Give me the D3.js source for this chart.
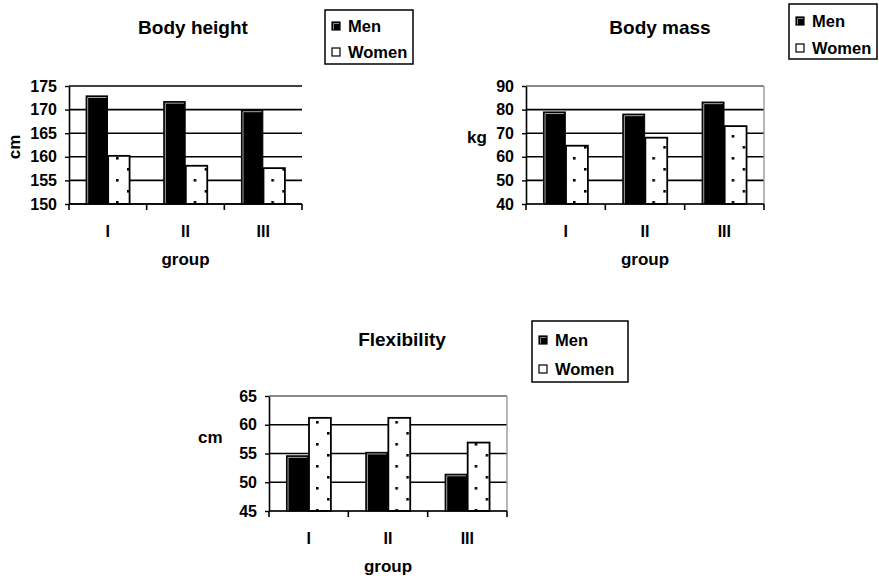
<!DOCTYPE html>
<html>
<head>
<meta charset="utf-8">
<script src="https://cdn.jsdelivr.net/npm/d3@7"></script>
<style>
  html, body { margin: 0; padding: 0; background: #fff; }
  svg { display: block; font-family: "Liberation Sans", Arial, sans-serif; font-weight: bold; }
</style>
</head>
<body>
<svg id="chart" width="879" height="584"></svg>
<script>
// Anthropometric comparison of men and women in three groups
const groups = ["I", "II", "III"];
const seriesNames = ["Men", "Women"];

const heightMen = [172.9, 171.7, 169.9];
const heightWomen = [160.2, 158.1, 157.6];
const heightTicks = [150, 155, 160, 165, 170, 175];

const massMen = [79.0, 78.1, 83.2];
const massWomen = [64.7, 68.1, 73.0];
const massTicks = [40, 50, 60, 70, 80, 90];

const flexMen = [54.6, 55.2, 51.4];
const flexWomen = [61.2, 61.2, 56.9];
const flexTicks = [45, 50, 55, 60, 65];

const svg = d3.select("#chart");

// dotted fill used for the women's bars
const defs = svg.append("defs");
const pat = defs.append("pattern")
  .attr("id", "dots")
  .attr("patternUnits", "userSpaceOnUse")
  .attr("width", 22).attr("height", 22);
pat.append("rect").attr("width", 22).attr("height", 22).attr("fill", "#fff");
pat.append("rect").attr("x", 3).attr("y", 3).attr("width", 2.6).attr("height", 2.6).attr("fill", "#000");
pat.append("rect").attr("x", 14).attr("y", 14).attr("width", 2.6).attr("height", 2.6).attr("fill", "#000");

const panels = [
  {
    title: "Body height", men: heightMen, women: heightWomen, ticks: heightTicks,
    unit: "cm", unitRotated: true, unitPos: [20, 147],
    plot: { x0: 69, x1: 302, y0: 86, y1: 204 },
    titlePos: [193, 34], legend: { x: 325, y: 10, w: 88, h: 54, r1: 22, r2: 48 },
    frame: false
  },
  {
    title: "Body mass", men: massMen, women: massWomen, ticks: massTicks,
    unit: "kg", unitRotated: false, unitPos: [467, 143],
    plot: { x0: 526, x1: 764, y0: 86, y1: 204 },
    titlePos: [660, 34], legend: { x: 789, y: 4, w: 88, h: 55, r1: 23, r2: 50 },
    frame: true
  },
  {
    title: "Flexibility", men: flexMen, women: flexWomen, ticks: flexTicks,
    unit: "cm", unitRotated: false, unitPos: [198, 443],
    plot: { x0: 269, x1: 507, y0: 396, y1: 511 },
    titlePos: [402, 346], legend: { x: 532, y: 321, w: 96, h: 61, r1: 25, r2: 54 },
    frame: true
  }
];

function drawPanel(p) {
  const g = svg.append("g");
  const { x0, x1, y0, y1 } = p.plot;
  const ext = d3.extent(p.ticks);

  const x = d3.scaleBand().domain(groups).range([x0, x1]).padding(0);
  const bw = x.bandwidth();
  const xs = d3.scaleBand().domain(seriesNames).range([bw * 0.22, bw * 0.78]).paddingInner(0.03);
  const y = d3.scaleLinear().domain(ext).range([y1, y0]);

  // horizontal gridlines
  g.append("g").selectAll("line").data(p.ticks).join("line")
    .attr("x1", x0).attr("x2", x1)
    .attr("y1", d => y(d)).attr("y2", d => y(d))
    .attr("stroke", d => (p.frame && (d === ext[1] || d === ext[0])) ? "#8a8a8a" : "#000")
    .attr("stroke-width", d => (p.frame && d === ext[1]) ? 2 : 1.6);

  if (p.frame) {
    g.append("line").attr("x1", x1).attr("x2", x1).attr("y1", y0).attr("y2", y1)
      .attr("stroke", "#9a9a9a").attr("stroke-width", 1.4);
  }

  // bars
  const rows = groups.map((grp, i) => ({ grp, Men: p.men[i], Women: p.women[i] }));
  const bars = g.append("g").selectAll("g").data(rows).join("g")
    .attr("transform", d => `translate(${x(d.grp)},0)`);

  bars.append("rect")
    .attr("x", xs("Men")).attr("width", xs.bandwidth())
    .attr("y", d => y(d.Men)).attr("height", d => y1 - y(d.Men))
    .attr("fill", "#000").attr("stroke", "#000").attr("stroke-width", 1);
  bars.append("path")
    .attr("d", d => {
      const l = xs("Men") + 1.6, t = y(d.Men) + 1.6, r = xs("Men") + xs.bandwidth() - 1.2;
      return `M${l},${y1}L${l},${t}L${r},${t}`;
    })
    .attr("fill", "none").attr("stroke", "#b5b5b5").attr("stroke-width", 0.9);

  bars.append("rect")
    .attr("x", xs("Women")).attr("width", xs.bandwidth())
    .attr("y", d => y(d.Women)).attr("height", d => y1 - y(d.Women))
    .attr("fill", "url(#dots)").attr("stroke", "#000").attr("stroke-width", 1.8);

  // y axis
  const yAxis = g.append("g").attr("transform", `translate(${x0},0)`)
    .call(d3.axisLeft(y).tickValues(p.ticks).tickFormat(d3.format("d"))
      .tickSize(4).tickSizeOuter(0).tickPadding(8));
  yAxis.select(".domain").attr("stroke", "#000").attr("stroke-width", 1.6);
  yAxis.selectAll(".tick line").attr("stroke", "#000").attr("stroke-width", 1.4);
  yAxis.selectAll(".tick text").attr("font-size", 16).attr("font-weight", "bold")
    .attr("font-family", "Liberation Sans, Arial, sans-serif").attr("fill", "#000");

  // x axis: category labels plus separators between groups
  const xAxis = g.append("g").attr("transform", `translate(0,${y1})`)
    .call(d3.axisBottom(x).tickSize(0).tickPadding(22));
  xAxis.select(".domain").remove();
  xAxis.selectAll(".tick text").attr("font-size", 16).attr("font-weight", "bold")
    .attr("font-family", "Liberation Sans, Arial, sans-serif").attr("fill", "#000");
  g.append("line").attr("x1", x0).attr("x2", x1).attr("y1", y1).attr("y2", y1)
    .attr("stroke", "#000").attr("stroke-width", 1.6);
  const seps = groups.map(d => x(d)).concat([x1]);
  g.append("g").selectAll("line").data(seps).join("line")
    .attr("x1", d => d).attr("x2", d => d).attr("y1", y1).attr("y2", y1 + 6)
    .attr("stroke", "#000").attr("stroke-width", 1.6);

  // axis titles
  g.append("text").attr("x", (x0 + x1) / 2).attr("y", y1 + 61)
    .attr("text-anchor", "middle").attr("font-size", 17).text("group");
  if (p.unitRotated) {
    g.append("text")
      .attr("transform", `translate(${p.unitPos[0]},${p.unitPos[1]}) rotate(-90)`)
      .attr("text-anchor", "middle").attr("font-size", 17).text(p.unit);
  } else {
    g.append("text").attr("x", p.unitPos[0]).attr("y", p.unitPos[1])
      .attr("font-size", 17).text(p.unit);
  }

  // chart title
  g.append("text").attr("x", p.titlePos[0]).attr("y", p.titlePos[1])
    .attr("text-anchor", "middle").attr("font-size", 19).text(p.title);

  // legend
  const L = p.legend;
  const lg = g.append("g").attr("transform", `translate(${L.x},${L.y})`);
  lg.append("rect").attr("width", L.w).attr("height", L.h)
    .attr("fill", "#fff").attr("stroke", "#000").attr("stroke-width", 1.5);
  const rowsY = [L.r1, L.r2];
  seriesNames.forEach((name, i) => {
    const by = rowsY[i];
    lg.append("rect").attr("x", 7).attr("y", by - 10).attr("width", 8).attr("height", 8)
      .attr("fill", name === "Men" ? "#000" : "#fff")
      .attr("stroke", "#000").attr("stroke-width", 1.2);
    if (name === "Men") {
      lg.append("path").attr("d", `M8.5,${by - 2.5}L8.5,${by - 8.5}L14,${by - 8.5}`)
        .attr("fill", "none").attr("stroke", "#aaa").attr("stroke-width", 0.8);
    }
    lg.append("text").attr("x", 23).attr("y", by).attr("font-size", 16.5).text(name);
  });
}

panels.forEach(drawPanel);
</script>
</body>
</html>
